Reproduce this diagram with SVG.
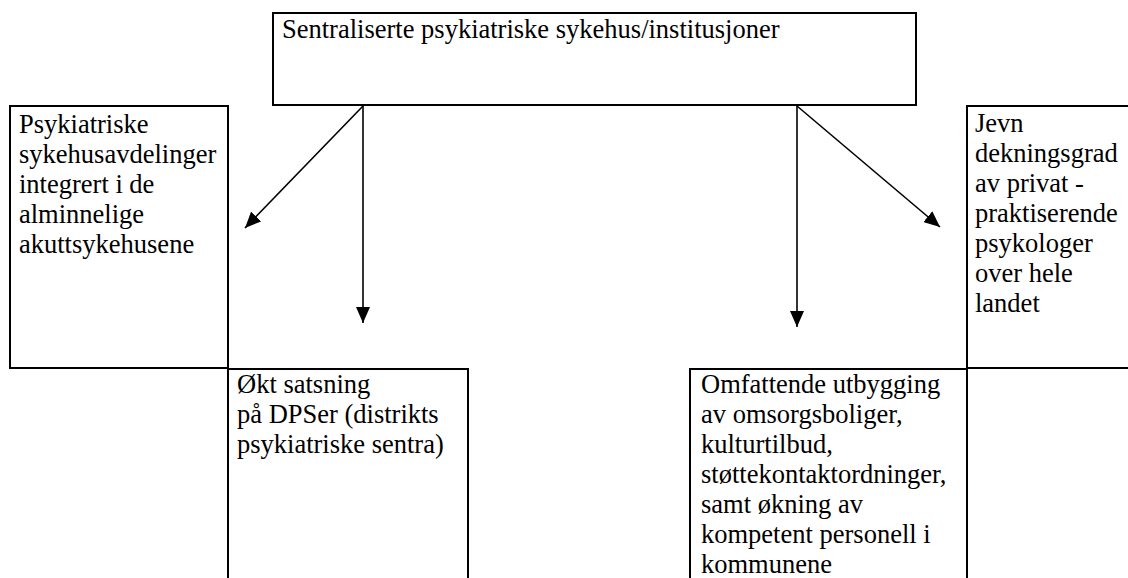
<svg xmlns="http://www.w3.org/2000/svg" width="1128" height="578" viewBox="0 0 1128 578">
<style>
.box{fill:#fff;stroke:#000;stroke-width:2}
.t{font-family:'Liberation Serif','DejaVu Serif',serif;font-size:26.5px;fill:#000}
.c{stroke:#000;stroke-width:1.6;fill:none}
</style>
<defs>
<marker id="ah" markerUnits="userSpaceOnUse" markerWidth="16" markerHeight="14" refX="16" refY="7" orient="auto">
<path d="M0,0 L16,7 L0,14 z" fill="#000"/>
</marker>
</defs>
<rect width="1128" height="578" fill="#fff"/>
<g id="top">
<rect class="box" x="273" y="13" width="643" height="92"/>
<text class="t" font-family="Liberation Serif, serif" x="282" y="38">Sentraliserte psykiatriske sykehus/institusjoner</text>
</g>
<g id="left">
<rect class="box" x="10" y="106" width="218" height="262"/>
<text class="t" font-family="Liberation Serif, serif"><tspan x="19" y="133">Psykiatriske</tspan><tspan x="19" y="163">sykehusavdelinger</tspan><tspan x="19" y="193">integrert i de</tspan><tspan x="19" y="223">alminnelige</tspan><tspan x="19" y="253">akuttsykehusene</tspan></text>
</g>
<g id="right">
<rect class="box" x="967" y="106" width="180" height="262"/>
<text class="t" font-family="Liberation Serif, serif"><tspan x="975" y="132">Jevn</tspan><tspan x="975" y="162">dekningsgrad</tspan><tspan x="975" y="192">av privat  -</tspan><tspan x="975" y="222">praktiserende</tspan><tspan x="975" y="252">psykologer</tspan><tspan x="975" y="282">over hele</tspan><tspan x="975" y="312">landet</tspan></text>
</g>
<g id="dps">
<rect class="box" x="228" y="369" width="240" height="230"/>
<text class="t" font-family="Liberation Serif, serif"><tspan x="237" y="393">Økt satsning</tspan><tspan x="237" y="423">på DPSer (distrikts</tspan><tspan x="237" y="453">psykiatriske sentra)</tspan></text>
</g>
<g id="kommune">
<rect class="box" x="690" y="369" width="277" height="230"/>
<text class="t" font-family="Liberation Serif, serif"><tspan x="701" y="393">Omfattende utbygging</tspan><tspan x="701" y="423">av omsorgsboliger,</tspan><tspan x="701" y="453">kulturtilbud,</tspan><tspan x="701" y="483">støttekontaktordninger,</tspan><tspan x="701" y="513">samt økning av</tspan><tspan x="701" y="543">kompetent personell i</tspan><tspan x="701" y="573">kommunene</tspan></text>
</g>
<g id="connectors">
<line class="c" x1="363" y1="106" x2="245" y2="228" marker-end="url(#ah)"/>
<line class="c" x1="363" y1="106" x2="363" y2="323" marker-end="url(#ah)"/>
<line class="c" x1="797" y1="106" x2="797" y2="327" marker-end="url(#ah)"/>
<line class="c" x1="797" y1="106" x2="940" y2="227" marker-end="url(#ah)"/>
</g>
</svg>
